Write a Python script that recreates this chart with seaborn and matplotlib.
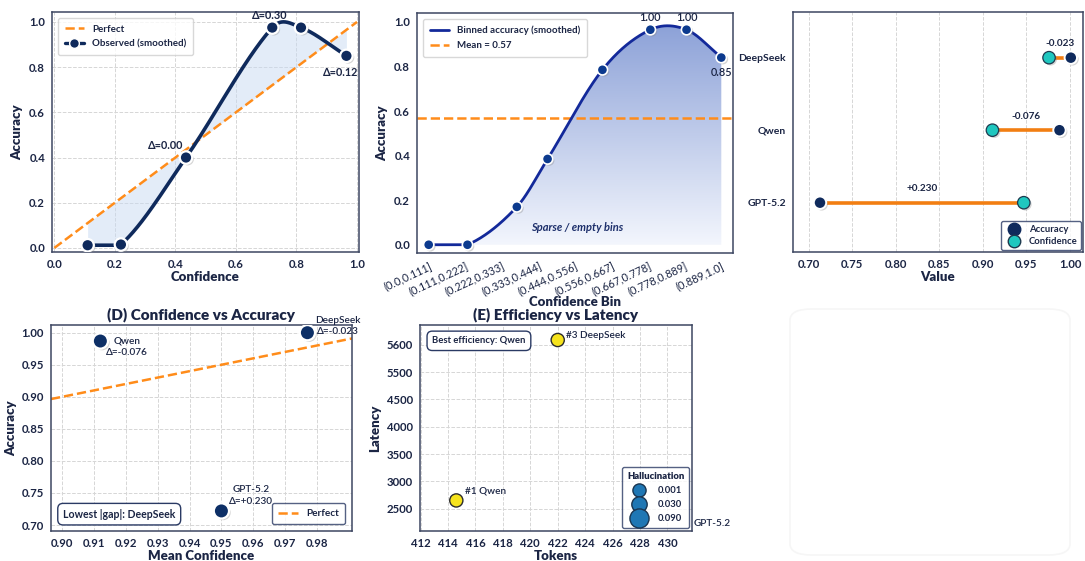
import numpy as np
import matplotlib
matplotlib.use("Agg")
import matplotlib.pyplot as plt
import seaborn as sns
from matplotlib.lines import Line2D
from matplotlib import patheffects as pe
from matplotlib.patches import PathPatch, FancyBboxPatch
from matplotlib.colors import LinearSegmentedColormap

# ---------------- data ----------------
# (A) reliability curve
calib_conf = [0.11, 0.22, 0.435, 0.72, 0.815, 0.965]
calib_acc = [0.012, 0.015, 0.40, 0.975, 0.975, 0.85]
calib_labels = ["", "", "Δ=0.00", "Δ=0.30", "", "Δ=0.12"]

# (B) binned accuracy
bin_labels = ["(0.0,0.111]", "(0.111,0.222]", "(0.222,0.333]", "(0.333,0.444]",
              "(0.444,0.556]", "(0.556,0.667]", "(0.667,0.778]", "(0.778,0.889]",
              "(0.889,1.0]"]
bin_pos = [0.0, 1.06, 2.41, 3.25, 4.75, 6.06, 7.05, 8.0]
bin_acc = [0.0, 0.0, 0.17, 0.385, 0.785, 0.965, 0.965, 0.84]
bin_value_labels = ["", "", "", "", "", "1.00", "1.00", "0.85"]
mean_acc = 0.57

# (C) dumbbell
models = ["GPT-5.2", "Qwen", "DeepSeek"]
acc_c = [0.713, 0.988, 1.001]
conf_c = [0.947, 0.911, 0.976]
gap_labels = ["+0.230", "-0.076", "-0.023"]

# (D) confidence vs accuracy
conf_d = [0.950, 0.912, 0.977]
acc_d = [0.722, 0.987, 1.000]
delta_d = ["Δ=+0.230", "Δ=-0.076", "Δ=-0.023"]

# (E) efficiency vs latency
tokens = [432.6, 414.6, 422.0]
latency = [2250, 2650, 5618]
halluc = [0.090, 0.001, 0.001]
rank_labels = ["GPT-5.2", "#1 Qwen", "#3 DeepSeek"]
lat_ticks = [2500, 3000, 3500, 4000, 4500, 5500, 5600]
halluc_legend = [0.001, 0.030, 0.090]

# ---------------- style ----------------
sns.set_theme(style="white")
plt.rcParams["font.family"] = ["Lato", "DejaVu Sans"]
plt.rcParams["font.weight"] = "bold"
NAVY = "#0f2a5c"
TXT = "#1b2544"
ORANGE = "#ff8c1a"
SPINE = "#3d4762"
GRID = dict(color="#d6d6d6", linestyle="--", linewidth=0.7)
LBL = dict(fontsize=9.5, fontweight="heavy", color=TXT)
TTL = dict(fontsize=11, fontweight="heavy", color=TXT)
shadow = [pe.SimplePatchShadow(offset=(1.2, -1.2), shadow_rgbFace="#888888", alpha=0.35), pe.Normal()]


def smooth(x, y, n=400):
    x = np.asarray(x, float)
    y = np.asarray(y, float)
    sec = np.diff(y) / np.diff(x)
    m = np.empty_like(y)
    m[0], m[-1] = sec[0], sec[-1]
    m[1:-1] = (y[2:] - y[:-2]) / (x[2:] - x[:-2])
    xs = np.linspace(x[0], x[-1], n)
    i = np.clip(np.searchsorted(x, xs) - 1, 0, len(x) - 2)
    h = x[i + 1] - x[i]
    t = (xs - x[i]) / h
    ys = ((2 * t**3 - 3 * t**2 + 1) * y[i] + (t**3 - 2 * t**2 + t) * h * m[i]
          + (-2 * t**3 + 3 * t**2) * y[i + 1] + (t**3 - t**2) * h * m[i + 1])
    return xs, np.clip(ys, y.min(), None)


def style_ax(ax, fs=8.2):
    for s in ax.spines.values():
        s.set_color(SPINE)
        s.set_linewidth(1.1)
    ax.tick_params(axis="both", labelsize=fs, colors=TXT, length=3, width=0.8, color=SPINE, pad=2)


def style_legend(lg):
    for t in lg.get_texts():
        t.set_color(TXT)


W, H = 1085, 561
fig = plt.figure(figsize=(W / 100, H / 100), dpi=100)
fig.patch.set_facecolor("white")


def add_ax(l, t, r, b):
    return fig.add_axes([l / W, 1 - b / H, (r - l) / W, (b - t) / H])


axA = add_ax(52, 12, 359, 252)
axB = add_ax(417, 13, 733, 253)
axC = add_ax(793, 12, 1083, 252)
axD = add_ax(51, 325, 352, 531)
axE = add_ax(420, 325, 692, 531)

# faint empty card (panel F)
fig.patches.append(FancyBboxPatch((790 / W, 6 / H), 280 / W, 246 / H,
                                  boxstyle="round,pad=0,rounding_size=0.02",
                                  transform=fig.transFigure, facecolor="white",
                                  edgecolor="#f6f6f6", linewidth=1.2, zorder=0))

# ---------------- (A) ----------------
ax = axA
xs, ys = smooth(calib_conf, calib_acc)
ax.fill_between(xs, ys, xs, color="#c8daf2", alpha=0.5, linewidth=0, zorder=1)
diag = np.array([0.0, 1.0])
sns.lineplot(x=diag, y=diag, ax=ax, color=ORANGE, linestyle="--", linewidth=1.8, zorder=2)
sns.lineplot(x=xs, y=ys, ax=ax, color=NAVY, linewidth=2.6, zorder=3, sort=False)
sc = sns.scatterplot(x=calib_conf, y=calib_acc, ax=ax, s=80, color=NAVY,
                     edgecolor="white", linewidth=1.6, zorder=4)
sc.collections[-1].set_path_effects(shadow)
offs = {2: (-15, 9), 3: (-2, 9), 5: (-4, -12)}
for i, lab in enumerate(calib_labels):
    if lab:
        ax.annotate(lab, (calib_conf[i], calib_acc[i]), xytext=offs[i], textcoords="offset points",
                    ha="center", va="center", fontsize=7.8, color=TXT, zorder=5)
ax.set_xlim(-0.0077, 1.0066)
ax.set_ylim(-0.018, 1.044)
ax.set_xticks(np.arange(0, 1.01, 0.2))
ax.set_yticks(np.arange(0, 1.01, 0.2))
ax.grid(True, **GRID)
ax.set_xlabel("Confidence", labelpad=1, **LBL)
ax.set_ylabel("Accuracy", labelpad=4, **LBL)
hA = [Line2D([], [], color=ORANGE, ls="--", lw=1.8),
      Line2D([], [], color=NAVY, lw=2.4, marker="o", ms=7, mec="white")]
lg = ax.legend(hA, ["Perfect", "Observed (smoothed)"], loc="upper left", fontsize=7,
               frameon=True, edgecolor="#cfcfcf", fancybox=True, borderpad=0.7,
               labelspacing=0.6, borderaxespad=0.6)
style_legend(lg)
style_ax(ax)

# ---------------- (B) ----------------
ax = axB
BLUE = "#13299a"
xs, ys = smooth(bin_pos, bin_acc)
grad = np.linspace(0, 1, 256).reshape(-1, 1)
cmap = LinearSegmentedColormap.from_list("g", ["#f3f6fd", "#8da2d8"])
poly = ax.fill_between(xs, ys, 0, color="none", linewidth=0)
patch = PathPatch(poly.get_paths()[0], facecolor="none", edgecolor="none", transform=ax.transData)
ax.add_patch(patch)
im = ax.imshow(grad, extent=[xs.min(), xs.max(), 0, ys.max()], origin="lower",
               aspect="auto", cmap=cmap, zorder=1)
im.set_clip_path(patch)
ax.axhline(mean_acc, color=ORANGE, linestyle="--", linewidth=1.8, zorder=2)
sns.lineplot(x=xs, y=ys, ax=ax, color=BLUE, linewidth=2.0, zorder=3, sort=False)
sc = sns.scatterplot(x=bin_pos, y=bin_acc, ax=ax, s=55, color="#0c3a8e",
                     edgecolor="white", linewidth=1.2, zorder=4)
sc.collections[-1].set_path_effects(shadow)
for i, lab in enumerate(bin_value_labels):
    if lab:
        dy = -11 if i == len(bin_value_labels) - 1 else 9
        ax.annotate(lab, (bin_pos[i], bin_acc[i]), xytext=(0, dy), textcoords="offset points",
                    ha="center", va="center", fontsize=7.8, fontweight="semibold", color=TXT, zorder=5)
ax.text(4.05, 0.078, "Sparse / empty bins", fontsize=8, fontstyle="italic",
        color="#1d2f6b", ha="center", va="center")
ax.set_xlim(-0.32, 8.32)
ax.set_ylim(-0.037, 1.04)
ax.set_xticks(range(len(bin_labels)))
ax.set_xticklabels(bin_labels, rotation=25, ha="right", rotation_mode="anchor",
                   fontweight="normal")
ax.set_yticks(np.arange(0, 1.01, 0.2))
ax.set_xlabel("Confidence Bin", labelpad=-1, **LBL)
ax.set_ylabel("Accuracy", labelpad=4, **LBL)
hB = [Line2D([], [], color=BLUE, lw=2.0), Line2D([], [], color=ORANGE, ls="--", lw=1.8)]
lg = ax.legend(hB, ["Binned accuracy (smoothed)", f"Mean = {mean_acc:.2f}"], loc="upper left",
               fontsize=7, frameon=True, edgecolor="#cfcfcf", fancybox=True, borderpad=0.7,
               labelspacing=0.6, borderaxespad=0.6)
style_legend(lg)
style_ax(ax)
ax.tick_params(axis="x", labelsize=7.8)

# ---------------- (C) ----------------
ax = axC
TEAL = "#1fc7bf"
ypos = np.arange(len(models))
for y, a, c, g in zip(ypos, acc_c, conf_c, gap_labels):
    ax.plot([a, c], [y, y], color="#f27e12", linewidth=2.6, zorder=2,
            path_effects=[pe.SimplePatchShadow(offset=(1, -1), alpha=0.25), pe.Normal()])
    ax.annotate(g, ((a + c) / 2, y), xytext=(0, 10), textcoords="offset points",
                ha="center", va="center", fontsize=7.2, color=TXT, zorder=5)
s1 = sns.scatterplot(x=acc_c, y=ypos, ax=ax, s=80, color=NAVY, edgecolor="white", linewidth=1.4, zorder=4)
s1.collections[-1].set_path_effects(shadow)
s2 = sns.scatterplot(x=conf_c, y=ypos, ax=ax, s=80, color=TEAL, edgecolor="#1d3a4f", linewidth=0.9, zorder=4)
s2.collections[-1].set_path_effects(shadow)
ax.set_yticks(ypos)
ax.set_yticklabels(models)
ax.set_ylim(-0.68, 2.63)
ax.set_xlim(0.682, 1.015)
ax.set_xticks(np.arange(0.70, 1.001, 0.05))
ax.xaxis.grid(True, **GRID)
ax.set_xlabel("Value", labelpad=1, **LBL)
ax.set_ylabel("")
hC = [Line2D([], [], ls="", marker="o", ms=9, color=NAVY, mec=NAVY),
      Line2D([], [], ls="", marker="o", ms=9, color=TEAL, mec="#1d3a4f")]
lg = ax.legend(hC, ["Accuracy", "Confidence"], loc="lower right", fontsize=6.8, frameon=True,
               edgecolor="#2a3a64", fancybox=True, borderpad=0.4, handletextpad=0.5,
               borderaxespad=0.2, labelspacing=0.35)
style_legend(lg)
style_ax(ax)
ax.tick_params(axis="y", length=0, labelsize=7.5, pad=5)

# ---------------- (D) ----------------
ax = axD
diag = np.array([0.88, 1.0])
sns.lineplot(x=diag, y=diag, ax=ax, color=ORANGE, linestyle="--", linewidth=1.8, zorder=2)
sc = sns.scatterplot(x=conf_d, y=acc_d, ax=ax, s=120, color="#0d2f66", edgecolor="white",
                     linewidth=1.6, zorder=4)
sc.collections[-1].set_path_effects(shadow)
offD = [(21.5, 11), (19, -4), (22, 5)]
for i in range(len(models)):
    ax.annotate(f"{models[i]}\n{delta_d[i]}", (conf_d[i], acc_d[i]), xytext=offD[i],
                textcoords="offset points", ha="center", va="center", fontsize=7.2,
                fontweight="semibold", color=TXT, linespacing=1.35, annotation_clip=False, zorder=6)
ax.set_xlim(0.8965, 0.991)
ax.set_ylim(0.6907, 1.012)
ax.set_xticks(np.arange(0.90, 0.985, 0.01))
ax.set_yticks(np.arange(0.70, 1.001, 0.05))
ax.grid(True, **GRID)
ax.set_title("(D) Confidence vs Accuracy", pad=4, **TTL)
ax.set_xlabel("Mean Confidence", labelpad=1, **LBL)
ax.set_ylabel("Accuracy", labelpad=3, **LBL)
best = models[int(np.argmin(np.abs(np.array(conf_d) - np.array(acc_d))))]
ax.text(0.04, 0.055, f"Lowest |gap|: {best}", transform=ax.transAxes, fontsize=7.6,
        color=TXT, ha="left", va="bottom",
        bbox=dict(boxstyle="round,pad=0.5", facecolor="white", edgecolor="#2a3a64", linewidth=1))
lg = ax.legend([Line2D([], [], color=ORANGE, ls="--", lw=1.8)], ["Perfect"], loc="lower right",
               fontsize=7.2, frameon=True, edgecolor="#2a3a64", fancybox=True, borderaxespad=0.7,
               borderpad=0.6)
style_legend(lg)
style_ax(ax)

# ---------------- (E) ----------------
ax = axE
LAT_K = [1500, 4500, 5500, 5600, 5800]
POS_K = [-2, 4, 5, 6, 8]
ax.set_yscale("function", functions=(lambda v: np.interp(v, LAT_K, POS_K),
                                     lambda p: np.interp(p, POS_K, LAT_K)))
size_rng = (90, 190)
sns.scatterplot(x=tokens, y=latency, ax=ax, size=halluc, sizes=size_rng, size_norm=(0.001, 0.09),
                color="#f6e31c", edgecolor="#2b2b2b", linewidth=1.0, legend=False, zorder=4)
offE = [(-7, -1), (6, 6.5), (6, 3.5)]
for i, lab in enumerate(rank_labels):
    ax.annotate(lab, (tokens[i], latency[i]), xytext=offE[i], textcoords="offset points",
                ha="left", va="center", fontsize=7.2, fontweight="semibold", color=TXT,
                annotation_clip=False, zorder=6)
ax.set_xlim(411.95, 431.8)
ax.set_ylim(2090, 5673)
ax.set_xticks(np.arange(412, 431, 2))
ax.set_yticks(lat_ticks)
ax.set_yticklabels([str(v) for v in lat_ticks])
ax.yaxis.set_minor_locator(matplotlib.ticker.NullLocator())
ax.grid(True, **GRID)
ax.set_title("(E) Efficiency vs Latency", pad=4, **TTL)
ax.set_xlabel("Tokens", labelpad=1, **LBL)
ax.set_ylabel("Latency", labelpad=4, **LBL)
best_eff = rank_labels[1].split(" ", 1)[1]
ax.text(0.045, 0.945, f"Best efficiency: {best_eff}", transform=ax.transAxes, fontsize=6.8,
        color=TXT, ha="left", va="top",
        bbox=dict(boxstyle="round,pad=0.55", facecolor="white", edgecolor="#2a3a64", linewidth=1))
hE = []
for v in halluc_legend:
    s = size_rng[0] + (size_rng[1] - size_rng[0]) * (v - 0.001) / (0.09 - 0.001)
    hE.append(Line2D([], [], ls="", marker="o", ms=np.sqrt(s) * 1.0, color="#1f77b4", mec="#1a3550"))
lg = ax.legend(hE, [f"{v:.3f}" for v in halluc_legend], title="Hallucination", loc="lower right",
               fontsize=6.8, title_fontsize=6.8, frameon=True, edgecolor="#2a3a64", fancybox=True,
               labelspacing=0.55, borderaxespad=0.3, handletextpad=0.9, borderpad=0.5)
lg.get_title().set_fontweight("heavy")
lg.get_title().set_color(TXT)
style_legend(lg)
style_ax(ax)

fig.savefig("out.png", dpi=100, facecolor="white")
